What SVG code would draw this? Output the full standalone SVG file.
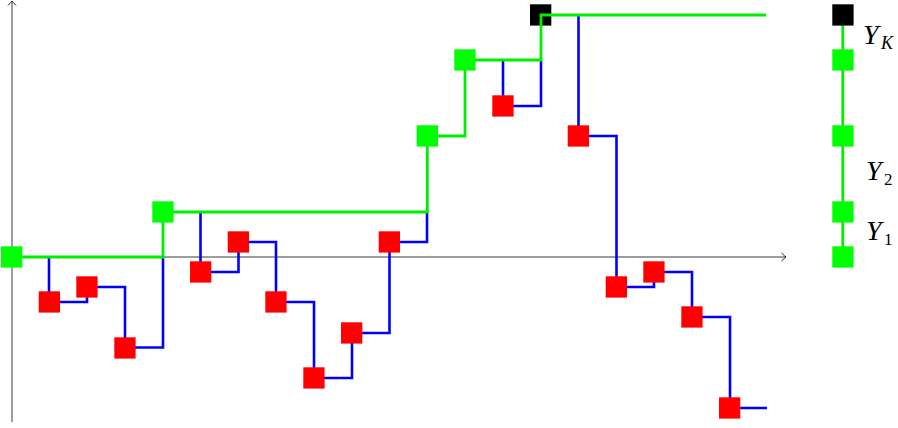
<svg xmlns="http://www.w3.org/2000/svg" width="898" height="428" viewBox="0 0 898 428">
<style>
.ax{fill:none;stroke:#3a3a3a;stroke-width:1}
.bl{fill:none;stroke:#0000ff;stroke-width:2.6;stroke-linejoin:miter}
.gr{fill:none;stroke:#00ee00;stroke-width:2.8;stroke-linejoin:miter}
.r{fill:#ff0000}
.g{fill:#00ff00}
.k{fill:#000000}
.lb{font-family:"Liberation Serif","DejaVu Serif",serif;font-style:italic;font-size:28px;fill:#000}
.sb{font-family:"Liberation Serif","DejaVu Serif",serif;font-style:italic;font-size:18px;fill:#000}
.sn{font-family:"Liberation Serif","DejaVu Serif",serif;font-size:17px;fill:#000}
</style>
<defs>
<marker id="ah" viewBox="-6 -5 7 10" refX="0" refY="0" markerWidth="7" markerHeight="10" markerUnits="userSpaceOnUse" orient="auto">
<path d="M-4.5,-4 Q-1.2,-0.9 0,0 Q-1.2,0.9 -4.5,4" fill="none" stroke="#222" stroke-width="1"/>
</marker>
</defs>
<g id="axes">
<line class="ax" x1="12" y1="422" x2="12" y2="1" marker-end="url(#ah)"/>
<line class="ax" x1="12" y1="257" x2="786" y2="257" marker-end="url(#ah)"/>
</g>
<g id="connectors">
<path class="bl" d="M49,257 V302 H87 V287 H125 V347.5 H163 V257"/>
<path class="bl" d="M200.5,212 V272 H238.5 V242 H276 V302 H314 V378 H352 V333 H389.5 V242 H427 V212"/>
<path class="bl" d="M503,60 V106 H541 V60"/>
<path class="bl" d="M578.5,15 V136 H616.5 V287 H654 V272 H692 V317 H730 V408 H767"/>
</g>
<g id="nodeK"><rect class="k" x="530" y="4.3" width="21.3" height="21.3"/></g>
<g id="greenPath"><path class="gr" d="M11.5,257 H163 V212 H427.3 V136 H465 V60 H541 V15 H766"/></g>
<g id="redNodes">
<rect id="r1" class="r" x="38.7" y="291.3" width="21.3" height="21.3"/>
<rect id="r2" class="r" x="76.3" y="276.3" width="21.3" height="21.3"/>
<rect id="r3" class="r" x="114.3" y="337.3" width="21.3" height="21.3"/>
<rect id="r4" class="r" x="190" y="261.3" width="21.3" height="21.3"/>
<rect id="r5" class="r" x="227.7" y="231.3" width="21.3" height="21.3"/>
<rect id="r6" class="r" x="265.3" y="291.3" width="21.3" height="21.3"/>
<rect id="r7" class="r" x="303.3" y="367.3" width="21.3" height="21.3"/>
<rect id="r8" class="r" x="341" y="322.3" width="21.3" height="21.3"/>
<rect id="r9" class="r" x="378.7" y="231.3" width="21.3" height="21.3"/>
<rect id="r10" class="r" x="492.3" y="95.3" width="21.3" height="21.3"/>
<rect id="r11" class="r" x="567.7" y="125.3" width="21.3" height="21.3"/>
<rect id="r12" class="r" x="605.7" y="276.3" width="21.3" height="21.3"/>
<rect id="r13" class="r" x="643.3" y="261.3" width="21.3" height="21.3"/>
<rect id="r14" class="r" x="681.3" y="306.3" width="21.3" height="21.3"/>
<rect id="r15" class="r" x="719" y="397.3" width="21.3" height="21.3"/>
</g>
<g id="greenNodes">
<rect id="g1" class="g" x="1" y="246.3" width="21.3" height="21.3"/>
<rect id="g2" class="g" x="152.3" y="201.3" width="21.3" height="21.3"/>
<rect id="g3" class="g" x="416.7" y="125.3" width="21.3" height="21.3"/>
<rect id="g4" class="g" x="454.3" y="49.3" width="21.3" height="21.3"/>
</g>
<g id="legend">
<line x1="842.8" y1="15" x2="842.8" y2="257" stroke="#00ee00" stroke-width="2.8"/>
<rect class="k" x="832.3" y="4.3" width="21.3" height="21.3"/>
<rect class="g" x="832.3" y="49.3" width="21.3" height="21.3"/>
<rect class="g" x="832.3" y="125.3" width="21.3" height="21.3"/>
<rect class="g" x="832.3" y="201.3" width="21.3" height="21.3"/>
<rect class="g" x="832.3" y="246.3" width="21.3" height="21.3"/>
<text class="lb" x="863" y="44">Y</text><text class="sb" x="881" y="49">K</text>
<text class="lb" x="866" y="180">Y</text><text class="sn" x="884" y="185">2</text>
<text class="lb" x="866" y="240">Y</text><text class="sn" x="884" y="245">1</text>
</g>
</svg>
